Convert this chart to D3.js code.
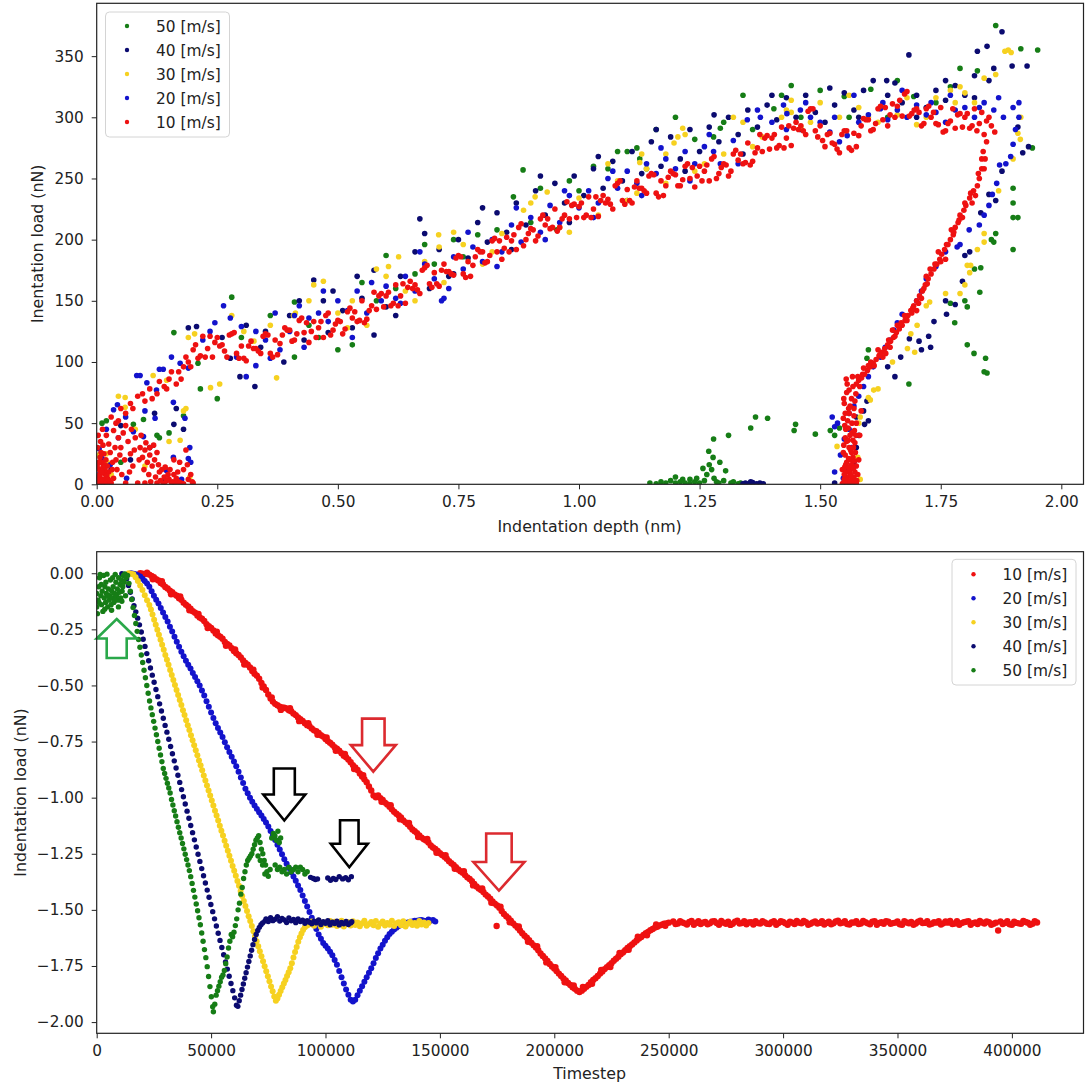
<!DOCTYPE html>
<html>
<head>
<meta charset="utf-8">
<script src="https://cdn.jsdelivr.net/npm/d3@7"></script>
<style>
  body { margin: 0; background: #fff; }
  text { font-family: "DejaVu Sans", sans-serif; fill: #222; }
</style>
</head>
<body>
<svg id="chart" width="1086" height="1085"></svg>
<script>
// ---------- series labels and colours ----------
const speeds = ["10 [m/s]", "20 [m/s]", "30 [m/s]", "40 [m/s]", "50 [m/s]"];
const speedColors = ["#ee1111", "#1313cc", "#f6d120", "#0b0b70", "#167d16"];

// ---------- ticks ----------
const depthTicks = [0, 0.25, 0.5, 0.75, 1.0, 1.25, 1.5, 1.75, 2.0];
const loadTicksTop = [0, 50, 100, 150, 200, 250, 300, 350];
const stepTicks = [0, 50000, 100000, 150000, 200000, 250000, 300000, 350000, 400000];
const loadTicksBottom = [0, -0.25, -0.5, -0.75, -1.0, -1.25, -1.5, -1.75, -2.0];

// ---------- load vs depth : [depth (nm), load (nN)] ----------
const depthLoad10 = [
  [0.003,2],[0.008,5],[0.012,1],[0.018,8],[0.005,12],[0.010,18],[0.020,3],[0.025,10],[0.015,25],[0.002,30],[0.030,1],[0.022,15],[0.006,0.5],[0.014,0.5],[0.035,5],[0.004,6],[0.009,9],[0.016,4],
  [0.002,4],[0.006,8],[0.011,3],[0.017,12],[0.021,7],[0.004,18],[0.009,26],[0.013,32],[0.019,1],[0.027,2],[0.032,12],[0.001,1],[0.011,10],[0.016,16],
  [0.001,15],[0.007,22],[0.013,14],[0.019,20],[0.024,4],[0.028,26],[0.033,18],[0.038,30],[0.042,12],[0.048,24],[0.052,8],[0.058,20],[0.068,10],[0.072,45],[0.078,28],[0.088,20],[0.092,40],[0.098,12],[0.102,34],[0.108,8],[0.112,2],[0.118,32],
  [0.122,6],[0.128,16],[0.132,3],[0.138,1],[0.142,14],[0.148,8],[0.152,12],[0.158,2],[0.162,1],[0.168,10],[0.172,18],[0.175,1],[0.188,16],[0.195,8],[0.198,2],[0.003,40],[0.008,35],[0.012,45],
  [0.020,40],[0.035,44],[0.045,38],[0.055,42],[0.050,30],[0.065,35],[0.070,25],[0.080,38],[0.090,30],[0.095,22],[0.100,28],[0.105,18],[0.110,24],[0.115,15],[0.120,20],[0.130,10],[0.140,6],[0.135,12],[0.150,4],[0.160,8],[0.170,2],[0.180,12],[0.190,4],[0.200,1],[0.060,1],[0.100,1],[0.140,0.5],[0.180,0.5],[0.040,20],[0.075,15],[0.160,20],[0.185,28],[0.045,52],[0.030,55],[0.110,30],[0.125,26],[0.145,3],[0.155,1],[0.165,5],[0.125,1],[0.085,1],[0.025,33],[0.060,48],
  [0.050,62],[0.070,66],[0.085,72],[0.100,68],[0.110,78],[0.125,74],[0.140,80],[0.150,86],[0.165,82],[0.170,92],[0.180,96],[0.190,100],
  [0.060,58],[0.075,62],[0.095,74],[0.115,70],[0.130,84],[0.145,78],[0.155,92],[0.175,86],[0.185,104],[0.195,96],[0.040,50],
  [0.20,110],[0.21,103],[0.22,121],[0.23,111],[0.24,104],[0.25,120],[0.26,114],[0.27,104],[0.28,123],[0.29,107],[0.30,113],[0.31,101],[0.32,117],[0.33,111],[0.34,107],[0.35,123],[0.36,107],[0.37,118],[0.38,115],[0.39,128],
  [0.40,126],[0.41,118],[0.42,134],[0.43,124],[0.44,116],[0.45,133],[0.46,128],[0.47,120],[0.48,140],[0.49,126],[0.50,134],[0.51,123],[0.52,141],[0.53,136],[0.54,133],[0.55,150],[0.56,135],[0.57,146],[0.58,143],[0.59,156],
  [0.60,154],[0.61,146],[0.62,163],[0.63,154],[0.64,148],[0.65,166],[0.66,163],[0.67,156],[0.68,177],[0.69,164],[0.70,173],[0.71,162],[0.72,180],[0.73,174],[0.74,171],[0.75,187],[0.76,172],[0.77,182],[0.78,179],[0.79,192],
  [0.80,190],[0.81,182],[0.82,199],[0.83,190],[0.84,184],[0.85,202],[0.86,199],[0.87,192],[0.88,213],[0.89,200],[0.90,209],[0.91,199],[0.92,217],[0.93,212],[0.94,209],[0.95,225],[0.96,210],[0.97,220],[0.98,217],[0.99,229],
  [1.00,227],[1.01,218],[1.02,235],[1.03,225],[1.04,219],[1.05,236],[1.06,233],[1.07,225],[1.08,246],[1.09,232],[1.10,241],[1.11,230],[1.12,248],[1.13,242],[1.14,238],[1.15,254],[1.16,238],[1.17,248],[1.18,244],[1.19,256],
  [1.20,253],[1.21,244],[1.22,260],[1.23,250],[1.24,243],[1.25,260],[1.26,256],[1.27,248],[1.28,268],[1.29,254],[1.30,262],[1.31,252],[1.32,270],[1.33,265],[1.34,262],[1.35,279],[1.36,264],[1.37,275],[1.38,272],[1.39,285],
  [1.40,283],[1.41,275],[1.42,292],[1.43,283],[1.44,277],[1.45,296],[1.46,293],[1.47,286],[1.48,307],[1.49,289],[1.50,293],[1.51,276],[1.52,287],[1.53,278],[1.54,271],[1.55,289],[1.56,275],[1.57,287],[1.58,285],[1.59,299],
  [1.60,298],[1.61,290],[1.62,307],[1.63,298],[1.64,293],[1.65,311],[1.66,309],[1.67,301],[1.68,321],[1.69,303],[1.70,307],[1.71,293],[1.72,307],[1.73,300],[1.74,295],[1.75,308],[1.76,289],[1.77,297],[1.78,291],[1.79,303],
  [1.80,300],[1.81,291],[1.82,307],[1.83,295],[1.84,286],[1.85,300],
  [0.215,105],[0.235,121],[0.255,113],[0.275,122],[0.295,103],[0.315,113],[0.335,109],[0.355,122],[0.375,106],[0.395,126],[0.415,123],[0.435,132],[0.455,120],[0.475,138],[0.495,131],[0.515,127],[0.535,141],[0.555,132],[0.575,157],[0.595,145],
  [0.615,148],[0.635,164],[0.655,160],[0.675,175],[0.695,161],[0.715,175],[0.735,172],[0.755,186],[0.775,170],[0.795,190],[0.815,187],[0.835,199],[0.855,190],[0.875,210],[0.895,205],[0.915,203],[0.935,217],[0.955,207],[0.975,231],[0.995,218],
  [1.015,220],[1.035,235],[1.055,230],[1.075,244],[1.095,229],[1.115,243],[1.135,240],[1.155,253],[1.175,236],[1.195,254],[1.215,249],[1.235,259],[1.255,248],[1.275,266],[1.295,259],[1.315,256],[1.335,270],[1.355,261],[1.375,286],[1.395,274],
  [1.415,277],[1.435,293],[1.455,290],[1.475,305],[1.495,284],[1.515,286],[1.535,274],[1.555,289],[1.575,276],[1.595,298],[1.615,295],[1.635,308],[1.655,300],[1.675,319],[1.695,306],[1.715,295],[1.735,304],[1.755,288],[1.775,307],[1.795,292],
  [1.815,293],[1.835,304],[1.855,293],[1.862,288],
  [0.205,114],[0.225,104],[0.245,116],[0.265,109],[0.285,124],[0.305,103],[0.325,111],[0.345,121],[0.365,104],[0.385,122],[0.405,117],[0.425,136],[0.445,125],[0.465,133],[0.485,122],[0.505,133],[0.525,144],[0.545,134],[0.565,142],[0.585,154],
  [0.605,157],[0.625,146],[0.645,161],[0.665,159],[0.685,179],[0.705,164],[0.725,174],[0.745,185],[0.765,169],[0.785,186],[0.805,181],[0.825,201],[0.845,193],[0.865,204],[0.885,195],[0.905,208],[0.925,220],[0.945,210],[0.965,217],[0.985,228],
  [1.005,230],[1.025,218],[1.045,232],[1.065,229],[1.085,248],[1.105,232],[1.125,242],[1.145,252],[1.165,235],[1.185,251],[1.205,244],[1.225,262],[1.245,252],[1.265,261],[1.285,250],[1.305,261],[1.325,273],[1.345,263],[1.365,271],[1.385,283],
  [1.405,286],[1.425,275],[1.445,291],[1.465,289],[1.485,307],[1.505,281],[1.525,279],[1.545,286],[1.565,273],[1.585,293],[1.605,289],[1.625,309],[1.645,302],[1.665,314],[1.685,301],[1.705,304],[1.725,309],[1.745,294],[1.765,295],[1.785,302],
  [1.805,303],[1.825,289],[1.845,297],
  [1.845,280],[1.838,272],[1.842,266],[1.835,258],[1.830,250],[1.826,244],[1.818,240],[1.822,236],[1.810,234],[1.802,228],[1.798,224],[1.790,220],[1.786,214],[1.780,210],[1.776,204],[1.770,200],[1.765,196],[1.758,192],[1.752,188],[1.748,184],
  [1.742,180],[1.736,176],[1.730,172],[1.724,168],[1.718,163],[1.712,158],[1.706,154],[1.700,150],[1.694,146],[1.688,142],[1.682,138],[1.676,134],[1.670,130],[1.664,127],[1.658,124],[1.652,120],[1.646,117],[1.640,114],[1.634,111],[1.628,108],
  [1.622,105],[1.616,102],[1.610,99],[1.604,96],[1.598,93],[1.592,90],[1.586,87],[1.580,85],[1.575,82],
  [1.840,258],[1.815,230],[1.795,218],[1.772,208],[1.745,190],[1.728,176],[1.710,152],[1.690,140],[1.675,138],[1.660,130],[1.645,112],[1.630,104],[1.620,110],[1.605,100],[1.590,95],[1.582,80],[1.760,184],[1.700,142],[1.720,170],[1.650,126],
  [1.835,266],[1.828,254],[1.812,238],[1.800,230],[1.788,216],[1.777,206],[1.762,196],[1.750,182],[1.738,180],[1.722,164],[1.715,160],[1.704,148],[1.692,144],[1.680,134],[1.668,132],[1.655,121],[1.642,118],[1.636,107],[1.624,106],[1.612,97],
  [1.600,97],[1.588,90],[1.578,88],
  [1.555,75],[1.565,70],[1.550,66],[1.570,62],[1.560,58],[1.548,54],[1.575,50],[1.558,46],[1.566,42],[1.552,38],[1.572,34],[1.560,30],[1.548,26],[1.568,22],[1.555,18],[1.575,15],[1.546,12],[1.562,9],[1.570,6],[1.550,4],
  [1.558,2],[1.566,1],[1.546,0.5],[1.575,0.5],[1.560,0.5],[1.553,10],[1.563,28],[1.557,52],[1.571,44],[1.549,70],[1.556,82],[1.567,88],[1.580,20],[1.578,8],[1.552,24],[1.565,16],[1.558,36],[1.570,56],[1.562,64],[1.574,74],
  [1.585,60],[1.582,40],[1.553,45],[1.569,30],[1.557,6],[1.564,20],[1.551,14],[1.573,26],
  [1.550,8],[1.556,3],[1.561,12],[1.567,4],[1.572,10],[1.553,16],[1.559,21],[1.565,26],[1.571,19],[1.549,32],[1.555,35],[1.562,40],[1.568,36],[1.574,40],[1.551,48],[1.559,62],[1.566,50],[1.552,58],[1.572,68],[1.560,77],
  [1.568,80],[1.554,86],[1.548,1],[1.554,1],[1.562,2],[1.570,1.5],[1.576,3],[1.559,14],[1.564,7],[1.569,13]
];

const depthLoad20 = [
  [0.005,29],[0.011,21],[0.028,16],[0.035,61],[0.043,65],[0.045,38],[0.062,5],[0.076,43],[0.083,89],[0.090,89],[0.097,39],[0.104,83],[0.121,54],[0.124,77],[0.130,94],[0.138,94],[0.145,11],[0.155,104],[0.159,67],[0.159,22],
  [0.173,99],[0.176,4],[0.183,54],[0.190,95],[0.193,30],[0.190,21],[0.195,18],[0.020,45],[0.060,55],[0.100,60],[0.005,8],
  [0.220,118],[0.235,125],[0.245,132],[0.263,146],[0.277,136],[0.290,104],[0.300,129],[0.310,88],[0.330,97],[0.350,118],[0.360,103],[0.380,110],[0.400,125],[0.410,138],[0.420,146],[0.440,136],[0.460,140],[0.480,133],[0.500,150],[0.520,142],
  [0.540,158],[0.560,140],[0.590,150],[0.600,162],[0.620,152],[0.640,170],[0.660,158],[0.680,180],[0.700,168],[0.715,150],[0.720,152],[0.740,186],[0.760,176],[0.780,194],[0.800,182],[0.820,200],[0.840,190],[0.860,212],[0.880,198],[0.900,218],
  [0.920,206],[0.940,228],[0.960,214],[0.980,236],[1.000,226],[1.020,240],[1.040,230],[1.060,250],[1.080,242],[1.100,256],[1.120,246],[1.140,262],[1.160,254],[1.180,266],[1.200,258],[1.220,272],[1.240,262],[1.260,276],[1.279,272],[1.293,262],
  [1.320,281],[1.349,298],[1.376,300],[1.400,296],[1.424,310],[1.431,303],[1.459,306],[1.480,300],[1.500,296],[1.520,288],[1.540,280],[1.556,285],[1.580,296],[1.600,302],[1.625,307],[1.640,298],[1.660,306],[1.680,300],[1.700,310],[1.720,302],
  [1.740,304],[1.760,296],[1.780,306],[1.800,308],[1.820,300],[1.840,312],[1.860,306],[1.880,300],[1.900,308],[1.912,312],
  [0.330,125],[0.370,140],[0.430,112],[0.470,158],[0.530,120],[0.570,165],[0.630,148],[0.670,190],[0.730,160],[0.770,206],[0.830,178],[0.870,226],[0.930,200],[0.970,240],[1.030,218],[1.070,256],[1.130,236],[1.170,275],[1.230,248],[1.270,286],
  [1.330,262],[1.370,306],[1.430,290],[1.470,312],[1.530,300],[1.570,318],[1.630,312],[1.670,322],[1.730,312],[1.770,318],[1.830,308],[1.870,316],
  [1.912,300],[1.905,290],[1.900,278],[1.895,268],[1.885,262],[1.872,261],[1.866,246],[1.857,237],[1.850,228],[1.840,220],[1.830,212],[1.809,208],[1.790,196],[1.784,194],[1.760,190],[1.740,178],[1.720,168],[1.710,158],[1.700,150],[1.690,142],
  [1.670,139],[1.660,132],[1.653,126],[1.645,118],[1.635,112],[1.625,104],[1.610,96],[1.600,88],[1.590,80],[1.580,72],[1.570,64],[1.560,58],[1.536,50],[1.525,55],[1.530,47],[1.550,37],[1.542,24],[1.530,10],[1.556,14],[1.548,5],
  [1.565,30],[1.560,45]
];

const depthLoad30 = [
  [0.004,24],[0.020,25],[0.022,18],[0.045,72],[0.059,71],[0.059,63],[0.117,89],[0.145,85],[0.173,36],[0.180,60],[0.185,62],[0.190,120],[0.193,6],[0.203,123],[0.030,8],[0.080,45],[0.100,15],[0.150,35],
  [0.236,79],[0.255,82],[0.280,138],[0.305,125],[0.326,117],[0.373,87],[0.408,138],[0.412,140],[0.450,163],[0.470,166],[0.500,140],[0.530,150],[0.560,130],[0.600,170],[0.605,178],[0.626,186],[0.640,158],[0.680,182],[0.709,204],[0.710,194],
  [0.720,165],[0.760,196],[0.800,180],[0.840,205],[0.885,224],[0.909,235],[0.934,239],[0.960,210],[1.000,234],[1.040,220],[1.080,248],[1.100,232],[1.126,263],[1.130,270],[1.140,258],[1.180,246],[1.197,279],[1.205,284],[1.215,291],[1.220,286],
  [1.260,262],[1.300,270],[1.340,296],[1.380,284],[1.420,300],[1.430,306],[1.440,304],[1.460,292],[1.500,312],[1.540,300],[1.580,308],[1.620,296],[1.660,302],[1.700,294],[1.740,316],[1.770,322],[1.790,325],[1.800,320],[1.840,332],[1.883,354],
  [1.890,355],[1.896,353],[1.864,335],[1.820,312],
  [0.360,130],[0.440,150],[0.520,128],[0.580,176],[0.660,150],[0.740,206],[0.820,190],[0.900,230],[0.980,206],[1.060,262],[1.120,238],[1.180,270],[1.240,256],[1.320,300],[1.360,276],[1.440,314],[1.480,296],[1.560,318],[1.600,300],[1.680,316],
  [1.720,300],[1.780,312],
  [1.916,300],[1.910,287],[1.915,282],[1.900,266],[1.870,240],[1.840,205],[1.840,198],[1.826,192],[1.805,179],[1.812,179],[1.810,173],[1.800,163],[1.790,156],[1.760,156],[1.727,149],[1.720,146],[1.701,130],[1.688,123],[1.696,108],[1.681,111],
  [1.650,100],[1.620,78],[1.600,71],[1.611,77],[1.604,69],[1.583,55],[1.580,50],[1.535,31],[1.583,4],[1.578,22]
];

const depthLoad40 = [
  [0.160,49],[0.165,62],[0.180,45],[0.190,128],[0.207,129],[0.010,3],[0.030,12],[0.070,20],[0.110,30],[0.140,2],[0.050,48],[0.120,58],
  [0.260,120],[0.277,103],[0.297,88],[0.310,130],[0.328,80],[0.350,125],[0.388,100],[0.400,138],[0.430,118],[0.450,167],[0.470,150],[0.490,158],[0.510,142],[0.530,128],[0.550,152],[0.575,175],[0.575,122],[0.600,145],
  [0.630,170],[0.660,190],[0.670,217],[0.690,160],[0.710,192],[0.730,170],[0.750,200],[0.770,185],[0.790,214],[0.810,198],[0.830,222],[0.850,206],[0.870,230],[0.890,212],[0.910,240],[0.930,220],[0.950,246],[0.970,230],[0.990,252],[1.010,236],
  [1.030,258],[1.050,242],[1.070,264],[1.090,248],[1.110,272],[1.130,254],[1.150,280],[1.170,260],[1.190,284],[1.210,266],[1.230,290],[1.250,272],[1.270,292],[1.290,280],[1.310,300],[1.330,286],[1.350,306],[1.370,292],[1.390,310],[1.410,298],
  [1.430,316],[1.450,300],[1.470,318],[1.490,304],[1.510,296],[1.530,310],[1.550,320],[1.570,306],[1.590,322],[1.610,330],[1.638,330],[1.655,328],[1.670,312],[1.684,351],[1.700,318],[1.720,308],[1.740,322],[1.760,314],[1.780,326],[1.800,318],
  [1.820,334],[1.826,354],[1.846,358],[1.850,330],[1.877,370],[1.860,340],[1.898,342],[1.929,342],
  [0.340,112],[0.420,150],[0.480,124],[0.540,170],[0.620,138],[0.680,205],[0.740,172],[0.800,226],[0.860,192],[0.920,252],[0.980,214],[1.040,268],[1.100,232],[1.160,290],[1.220,256],[1.280,302],[1.340,270],[1.400,318],[1.460,290],[1.520,324],
  [1.580,300],[1.640,318],[1.700,300],[1.760,330],[1.820,316],
  [1.910,292],[1.932,276],[1.920,271],[1.877,256],[1.850,237],[1.864,232],[1.833,222],[1.800,187],[1.810,190],[1.795,166],[1.780,147],[1.760,150],[1.762,139],[1.736,133],[1.725,121],[1.729,112],[1.705,117],[1.685,119],[1.710,110],[1.667,104],
  [1.655,88],[1.640,96],[1.597,68],[1.600,52],[1.592,49],[1.580,40],[1.575,30],[1.530,1],[1.590,60],[1.575,55],[1.570,18],
  [1.345,1],[1.352,0.5],[1.360,1.5],[1.368,0.5],[1.375,1],[1.382,0.5],[1.340,0.5],[1.356,2]
];

const depthLoad50 = [
  [0.011,50],[0.076,49],[0.097,53],[0.125,40],[0.130,38],[0.160,124],[0.210,99],[0.215,78],[0.250,70],[0.020,52],[0.050,18],[0.150,42],[0.180,56],
  [0.280,153],[0.300,120],[0.410,104],[0.410,149],[0.460,120],[0.500,110],[0.530,114],[0.550,165],[0.600,187],[0.620,160],[0.660,172],[0.700,180],[0.740,200],[0.790,204],[0.830,208],[0.864,235],[0.884,257],
  [0.920,242],[0.954,208],[0.980,248],[1.030,260],[1.060,258],[1.080,272],[1.100,272],[1.120,275],[1.126,266],[1.160,290],[1.200,300],[1.279,284],[1.293,291],[1.300,296],[1.340,318],[1.404,307],[1.420,318],[1.460,300],[1.500,322],[1.550,317],
  [1.605,323],[1.640,300],[1.694,317],[1.770,325],[1.790,340],[1.826,338],[1.864,375],[1.916,356],[1.951,355],
  [0.360,138],[0.440,130],[0.580,150],[0.680,196],[0.760,186],[0.900,214],[1.000,240],[1.140,258],[1.240,282],[1.360,290],[1.440,326],[1.560,300],[1.660,330],[1.740,312],
  [1.940,275],[1.900,242],[1.900,230],[1.900,218],[1.910,218],[1.900,192],[1.864,205],[1.855,200],[1.860,198],
  [1.833,177],[1.820,176],[1.831,157],[1.800,150],[1.805,145],[1.770,148],[1.779,132],[1.805,114],[1.819,107],[1.843,103],[1.840,92],[1.846,91],[1.684,82],[1.597,103],[1.600,110],
  [1.147,1],[1.160,0.5],[1.170,2],[1.180,1],[1.190,3],[1.200,1],[1.210,2],[1.215,4],[1.220,1],[1.230,0.5],[1.240,2],[1.244,5],[1.250,1],[1.257,13],[1.260,3],[1.265,8],[1.269,27],[1.270,16],[1.275,12],[1.278,22],
  [1.279,37],[1.280,5],[1.285,2],[1.290,1],[1.292,18],[1.300,3],[1.304,11],[1.310,40],[1.315,1],[1.320,2],[1.330,0.5],[1.335,1],[1.356,46],[1.366,55],[1.391,54],[1.449,49],[1.446,44],[1.490,41],[1.521,44],[1.530,40],
  [1.540,46],[1.200,6],[1.230,4]
];

// ---------- load vs timestep : [timestep, load (nN)] ----------
const stepLoad10 = [
  [19000,0.000],[20000,-0.002],[21000,-0.004],[22000,0.002],[23000,-0.006],[24000,-0.012],[25000,-0.018],[26000,-0.027],[27000,-0.032],[28000,-0.043],[29000,-0.050],[30000,-0.061],[31000,-0.068],[32000,-0.078],[33000,-0.085],[34000,-0.094],[35000,-0.100],[36000,-0.111],[37000,-0.118],[38000,-0.131],
  [39000,-0.140],[40000,-0.148],[41000,-0.158],[42000,-0.169],[43000,-0.176],[44000,-0.188],[45000,-0.197],[46000,-0.203],[47000,-0.213],[48000,-0.227],[49000,-0.236],[50000,-0.244],[51000,-0.255],[52000,-0.268],[53000,-0.276],[54000,-0.283],[55000,-0.292],[56000,-0.306],[57000,-0.315],[58000,-0.322],
  [59000,-0.334],[60000,-0.347],[61000,-0.356],[62000,-0.364],[63000,-0.375],[64000,-0.389],[65000,-0.400],[66000,-0.408],[67000,-0.420],[68000,-0.436],[69000,-0.448],[70000,-0.457],[71000,-0.470],[72000,-0.489],[73000,-0.505],[74000,-0.520],[75000,-0.540],[76000,-0.558],[77000,-0.572],[78000,-0.582],
  [79000,-0.588],[80000,-0.595],[81000,-0.598],[82000,-0.599],[83000,-0.603],[84000,-0.611],[85000,-0.615],[86000,-0.625],[87000,-0.632],[88000,-0.643],[89000,-0.650],[90000,-0.658],[91000,-0.668],[92000,-0.677],[93000,-0.682],[94000,-0.692],[95000,-0.700],[96000,-0.704],[97000,-0.712],[98000,-0.722],
  [99000,-0.728],[100000,-0.739],[101000,-0.748],[102000,-0.755],[103000,-0.764],[104000,-0.775],[105000,-0.782],[106000,-0.791],[107000,-0.802],[108000,-0.813],[109000,-0.820],[110000,-0.830],[111000,-0.842],[112000,-0.855],[113000,-0.865],[114000,-0.877],[115000,-0.892],[116000,-0.906],[117000,-0.918],[118000,-0.931],
  [119000,-0.950],[120000,-0.968],[121000,-0.990],[122000,-0.998],[123000,-0.990],[124000,-1.002],[125000,-1.010],[126000,-1.022],[127000,-1.030],[128000,-1.040],[129000,-1.052],[130000,-1.063],[131000,-1.072],[132000,-1.079],[133000,-1.088],[134000,-1.101],[135000,-1.110],[136000,-1.119],[137000,-1.130],[138000,-1.142],
  [139000,-1.150],[140000,-1.158],[141000,-1.168],[142000,-1.178],[143000,-1.185],[144000,-1.191],[145000,-1.200],[146000,-1.213],[147000,-1.222],[148000,-1.229],[149000,-1.238],[150000,-1.248],[151000,-1.255],[152000,-1.263],[153000,-1.272],[154000,-1.283],[155000,-1.292],[156000,-1.300],[157000,-1.310],[158000,-1.320],
  [159000,-1.328],[160000,-1.335],[161000,-1.345],[162000,-1.355],[163000,-1.362],[164000,-1.372],[165000,-1.385],[166000,-1.396],[167000,-1.405],[168000,-1.411],[169000,-1.420],[170000,-1.432],[171000,-1.440],[172000,-1.450],[173000,-1.462],[174000,-1.472],[175000,-1.480],[176000,-1.490],[177000,-1.505],[178000,-1.518],
  [179000,-1.528],[180000,-1.537],[181000,-1.548],[182000,-1.560],[183000,-1.570],[184000,-1.580],[185000,-1.592],[186000,-1.604],[187000,-1.615],[188000,-1.624],[189000,-1.635],[190000,-1.647],[191000,-1.658],[192000,-1.668],[193000,-1.680],[194000,-1.694],[195000,-1.705],[196000,-1.716],[197000,-1.728],[198000,-1.741],
  [199000,-1.752],[200000,-1.761],[201000,-1.772],[202000,-1.784],[203000,-1.795],[204000,-1.806],[205000,-1.815],[206000,-1.826],[207000,-1.835],[208000,-1.845],[209000,-1.852],[210000,-1.860],[211000,-1.866],[212000,-1.860],[213000,-1.852],[214000,-1.843],[215000,-1.835],[216000,-1.822],[217000,-1.812],[218000,-1.805],
  [219000,-1.795],[220000,-1.784],[221000,-1.775],[222000,-1.764],[223000,-1.755],[224000,-1.747],[225000,-1.738],[226000,-1.727],[227000,-1.718],[228000,-1.709],[229000,-1.698],[230000,-1.690],[231000,-1.680],[232000,-1.670],[233000,-1.662],[234000,-1.654],[235000,-1.645],[236000,-1.636],[237000,-1.628],[238000,-1.621],
  [239000,-1.612],[240000,-1.604],[241000,-1.598],[242000,-1.591],[243000,-1.585],[244000,-1.579],[245000,-1.575],[246000,-1.570],[247000,-1.566],[248000,-1.562],[249000,-1.560],[250000,-1.557],
  [24500,-0.027],[28500,-0.035],[32500,-0.094],[36500,-0.103],[40500,-0.165],[44500,-0.181],[48500,-0.244],[52500,-0.260],[56500,-0.323],[60500,-0.340],[64500,-0.407],[68500,-0.430],[72500,-0.509],[76500,-0.553],[80500,-0.609],[84500,-0.601],[88500,-0.659],[92500,-0.668],[96500,-0.720],[100500,-0.732],
  [104500,-0.791],[108500,-0.805],[112500,-0.872],[116500,-0.900],[124500,-1.018],[128500,-1.034],[132500,-1.096],[136500,-1.113],[140500,-1.175],[144500,-1.184],[148500,-1.246],[152500,-1.256],[156500,-1.317],[160500,-1.328],[164500,-1.391],[168500,-1.404],[172500,-1.468],[176500,-1.486],[180500,-1.555],[184500,-1.574],
  [188500,-1.642],[192500,-1.662],[196500,-1.734],[200500,-1.755],[204500,-1.823],[208500,-1.837],[212500,-1.844],[216500,-1.829],[220500,-1.768],[224500,-1.755],[228500,-1.692],[232500,-1.678],[236500,-1.620],[240500,-1.613],[244500,-1.565],[248500,-1.571],
  [252000,-1.552],[254000,-1.561],[256000,-1.556],[258000,-1.565],[260000,-1.549],[262000,-1.558],[264000,-1.563],[266000,-1.554],[268000,-1.560],[270000,-1.551],[272000,-1.566],[274000,-1.557],[276000,-1.553],[278000,-1.562],[280000,-1.548],[282000,-1.559],[284000,-1.564],[286000,-1.555],[288000,-1.550],[290000,-1.561],
  [292000,-1.556],[294000,-1.563],[296000,-1.551],[298000,-1.559],[300000,-1.554],[302000,-1.566],[304000,-1.557],[306000,-1.549],[308000,-1.560],[310000,-1.555],[312000,-1.562],[314000,-1.552],[316000,-1.558],[318000,-1.565],[320000,-1.553],[322000,-1.560],[324000,-1.548],[326000,-1.557],[328000,-1.563],[330000,-1.556],
  [332000,-1.551],[334000,-1.561],[336000,-1.555],[338000,-1.564],[340000,-1.550],[342000,-1.558],[344000,-1.562],[346000,-1.553],[348000,-1.559],[350000,-1.552],[352000,-1.566],[354000,-1.556],[356000,-1.554],[358000,-1.561],[360000,-1.548],[362000,-1.558],[364000,-1.565],[366000,-1.555],[368000,-1.551],[370000,-1.560],
  [372000,-1.557],[374000,-1.563],[376000,-1.550],[378000,-1.559],[380000,-1.553],[382000,-1.566],[384000,-1.556],[386000,-1.549],[388000,-1.561],[390000,-1.555],[392000,-1.562],[394000,-1.592],[395000,-1.552],[397000,-1.558],[399000,-1.564],[401000,-1.553],[403000,-1.560],[405000,-1.549],[407000,-1.557],[409000,-1.562],
  [411000,-1.556],[174800,-1.572],
  [253000,-1.563],[255000,-1.551],[257000,-1.560],[259000,-1.554],[261000,-1.566],[263000,-1.550],[265000,-1.557],[267000,-1.564],[269000,-1.552],[271000,-1.559],[273000,-1.549],[275000,-1.562],[277000,-1.567],[279000,-1.553],[281000,-1.561],[283000,-1.550],[285000,-1.556],[287000,-1.565],[289000,-1.559],[291000,-1.551],
  [293000,-1.562],[295000,-1.555],[297000,-1.566],[299000,-1.550],[301000,-1.560],[303000,-1.553],[305000,-1.563],[307000,-1.557],[309000,-1.549],[311000,-1.566],[313000,-1.556],[315000,-1.561],[317000,-1.551],[319000,-1.558],[321000,-1.564],[323000,-1.552],[325000,-1.560],[327000,-1.550],[329000,-1.565],[331000,-1.557],
  [333000,-1.563],[335000,-1.549],[337000,-1.560],[339000,-1.553],[341000,-1.566],[343000,-1.555],[345000,-1.550],[347000,-1.562],[349000,-1.557],[351000,-1.564],[353000,-1.551],[355000,-1.560],[357000,-1.566],[359000,-1.553],[361000,-1.559],[363000,-1.550],[365000,-1.562],[367000,-1.557],[369000,-1.565],[371000,-1.552],
  [373000,-1.549],[375000,-1.561],[377000,-1.566],[379000,-1.555],[381000,-1.550],[383000,-1.559],[385000,-1.563],[387000,-1.556],[389000,-1.552],[391000,-1.566],[393000,-1.557],[396000,-1.563],[398000,-1.551],[400000,-1.566],[402000,-1.558],[404000,-1.562],[406000,-1.554],[408000,-1.566],[410000,-1.551]
];

const stepLoad20 = [
  [15000,0.000],[16000,-0.002],[17000,-0.005],[18000,-0.009],[19000,-0.015],[20000,-0.024],[21000,-0.035],[22000,-0.046],[23000,-0.060],[24000,-0.080],[25000,-0.100],[26000,-0.118],[27000,-0.135],[28000,-0.155],[29000,-0.175],[30000,-0.195],[31000,-0.215],[32000,-0.238],[33000,-0.260],[34000,-0.283],
  [35000,-0.305],[36000,-0.328],[37000,-0.350],[38000,-0.370],[39000,-0.390],[40000,-0.408],[41000,-0.425],[42000,-0.444],[43000,-0.462],[44000,-0.481],[45000,-0.500],[46000,-0.522],[47000,-0.545],[48000,-0.570],[49000,-0.595],[50000,-0.620],[51000,-0.645],[52000,-0.668],[53000,-0.690],[54000,-0.710],
  [55000,-0.730],[56000,-0.753],[57000,-0.775],[58000,-0.797],[59000,-0.818],[60000,-0.839],[61000,-0.860],[62000,-0.885],[63000,-0.910],[64000,-0.935],[65000,-0.960],[66000,-0.980],[67000,-1.000],[68000,-1.018],[69000,-1.035],[70000,-1.050],[71000,-1.065],[72000,-1.080],[73000,-1.095],[74000,-1.111],
  [75000,-1.128],[76000,-1.148],[77000,-1.168],[78000,-1.189],[79000,-1.210],[80000,-1.231],[81000,-1.252],[82000,-1.274],[83000,-1.295],[84000,-1.313],[85000,-1.332],[86000,-1.351],[87000,-1.370],[88000,-1.391],[89000,-1.412],[90000,-1.436],[91000,-1.460],[92000,-1.485],[93000,-1.510],[94000,-1.535],
  [95000,-1.560],[96000,-1.585],[97000,-1.610],[98000,-1.629],[99000,-1.648],[100000,-1.660],[101000,-1.672],[102000,-1.687],[103000,-1.702],[104000,-1.723],[105000,-1.745],[106000,-1.772],[107000,-1.800],[108000,-1.828],[109000,-1.855],[110000,-1.878],[111000,-1.900],[112000,-1.908],[113000,-1.900],[114000,-1.880],
  [115000,-1.860],[116000,-1.840],[117000,-1.820],[118000,-1.800],[119000,-1.780],[120000,-1.760],[121000,-1.738],[122000,-1.715],[123000,-1.693],[124000,-1.672],[125000,-1.655],[126000,-1.638],[127000,-1.622],[128000,-1.608],[129000,-1.597],[130000,-1.588],[131000,-1.580],[132000,-1.572],[133000,-1.567],[134000,-1.562],
  [135000,-1.558],[136000,-1.556],[137000,-1.553],[138000,-1.552],[139000,-1.549],[140000,-1.548],[141000,-1.546],[142000,-1.545],[143000,-1.549],[144000,-1.550],[145000,-1.543],[146000,-1.548],[147000,-1.545],[148000,-1.552]
];

const stepLoad30 = [
  [14000,0.000],[15000,-0.002],[16000,-0.005],[17000,-0.018],[18000,-0.035],[19000,-0.055],[20000,-0.075],[21000,-0.098],[22000,-0.120],[23000,-0.142],
  [23700,-0.162],[24400,-0.184],[25100,-0.207],[25800,-0.229],[26500,-0.252],[27200,-0.274],[27900,-0.296],[28600,-0.319],[29300,-0.341],[30000,-0.364],[30700,-0.386],[31400,-0.408],[32100,-0.431],[32800,-0.453],[33500,-0.476],[34200,-0.498],[34900,-0.520],[35600,-0.543],[36300,-0.565],[37000,-0.587],
  [37700,-0.610],[38400,-0.632],[39100,-0.655],[39800,-0.677],[40500,-0.699],[41200,-0.722],[41900,-0.744],[42600,-0.767],[43300,-0.789],[44000,-0.811],[44700,-0.834],[45400,-0.856],[46100,-0.878],[46800,-0.901],[47500,-0.923],[48200,-0.946],[48900,-0.968],[49600,-0.990],[50300,-1.013],[51000,-1.035],
  [51700,-1.058],[52400,-1.080],[53100,-1.102],[53800,-1.125],[54500,-1.147],[55200,-1.169],[55900,-1.192],[56600,-1.214],[57300,-1.237],[58000,-1.259],[58700,-1.281],[59400,-1.304],[60100,-1.326],[60800,-1.348],[61500,-1.371],[62200,-1.393],[62900,-1.416],[63600,-1.438],[64300,-1.460],[65000,-1.483],
  [65700,-1.505],[66400,-1.528],[67100,-1.550],[67800,-1.572],[68500,-1.595],[69200,-1.617],[69900,-1.640],[70600,-1.662],[71300,-1.684],[72000,-1.707],[72700,-1.729],[73400,-1.751],[74100,-1.774],[74800,-1.796],[75500,-1.818],[76200,-1.841],[76900,-1.863],[77600,-1.886],[78300,-1.905],
  [79000,-1.895],[79700,-1.878],[80400,-1.862],[81100,-1.845],[81800,-1.828],[82500,-1.812],[83200,-1.795],[83900,-1.778],[84600,-1.760],[85300,-1.738],[86000,-1.712],[86700,-1.688],[87400,-1.665],[88100,-1.642],[88800,-1.622],[89500,-1.605],[90200,-1.590],[91000,-1.578],[92000,-1.570],[93000,-1.564],
  [94000,-1.552],[95000,-1.571],[96000,-1.560],[97000,-1.548],[98000,-1.575],[99000,-1.563],[100000,-1.556],[101000,-1.569],[102000,-1.550],[103000,-1.566],[104000,-1.553],[105000,-1.572],[106000,-1.559],[107000,-1.549],[108000,-1.574],[109000,-1.562],[110000,-1.555],[111000,-1.570],[112000,-1.551],[113000,-1.567],
  [114000,-1.556],[115000,-1.573],[116000,-1.560],[117000,-1.548],[118000,-1.571],[119000,-1.563],[120000,-1.554],[121000,-1.568],[122000,-1.550],[123000,-1.575],[124000,-1.561],[125000,-1.552],[126000,-1.570],[127000,-1.558],[128000,-1.566],[129000,-1.549],[130000,-1.572],[131000,-1.560],[132000,-1.555],[133000,-1.569],
  [134000,-1.551],[135000,-1.574],[136000,-1.562],[137000,-1.553],[138000,-1.567],[139000,-1.558],[140000,-1.571],[141000,-1.550],[142000,-1.565],[143000,-1.556],[144000,-1.570],[145000,-1.559]
];

const stepLoad40 = [
  [11000,-0.002],[12300,-0.005],[13100,-0.025],[13900,-0.055],[14700,-0.085],[15500,-0.115],[16300,-0.145],[17100,-0.172],[17900,-0.200],[18700,-0.230],[19500,-0.262],[20300,-0.294],[21100,-0.326],[21900,-0.358],[22700,-0.390],[23500,-0.422],[24300,-0.454],[25100,-0.486],[25900,-0.518],[26700,-0.550],
  [27500,-0.582],[28300,-0.614],[29100,-0.646],[29900,-0.678],[30700,-0.708],[31500,-0.740],[32300,-0.772],[33100,-0.804],[33900,-0.836],[34700,-0.868],[35500,-0.900],[36300,-0.932],[37100,-0.964],[37900,-0.996],[38700,-1.028],[39500,-1.060],[40300,-1.092],[41100,-1.124],[41900,-1.156],[42700,-1.188],
  [43500,-1.220],[44300,-1.252],[45100,-1.284],[45900,-1.316],[46700,-1.348],[47500,-1.380],[48300,-1.412],[49100,-1.444],[49900,-1.476],[50700,-1.508],[51500,-1.540],[52300,-1.572],[53100,-1.604],[53900,-1.636],[54700,-1.668],[55500,-1.700],[56300,-1.732],[57100,-1.764],[57900,-1.796],[58700,-1.828],
  [59500,-1.860],[60300,-1.892],[61100,-1.925],[61700,-1.930],
  [62300,-1.905],[62900,-1.880],[63500,-1.855],[64100,-1.830],[64700,-1.805],[65300,-1.780],[65900,-1.755],[66500,-1.730],[67100,-1.705],[67700,-1.680],[68300,-1.655],[69000,-1.632],[69700,-1.610],[70400,-1.592],[71100,-1.578],[71800,-1.566],[72500,-1.558],[73500,-1.550],
  [74000,-1.540],[75000,-1.552],[76000,-1.535],[77000,-1.548],[78000,-1.542],[79000,-1.530],[80000,-1.550],[81000,-1.538],[82000,-1.545],[83000,-1.556],[84000,-1.536],[85000,-1.549],[86000,-1.543],[87000,-1.557],[88000,-1.540],[89000,-1.552],[90000,-1.546],[91000,-1.560],[92000,-1.548],[93000,-1.555],
  [94000,-1.562],[95000,-1.550],[96000,-1.558],[97000,-1.545],[98000,-1.565],[99000,-1.553],[100000,-1.560],[101000,-1.548],[102000,-1.566],[103000,-1.555],[104000,-1.561],[105000,-1.550],[106000,-1.567],[107000,-1.556],[108000,-1.562],[109000,-1.552],[110000,-1.565],[111000,-1.558],[111500,-1.553],
  [93500,-1.355],[94700,-1.360],[95600,-1.365],[96500,-1.362],[101000,-1.358],[102200,-1.368],[103400,-1.360],[104500,-1.365],[106000,-1.352],[107500,-1.362],[108800,-1.357],[110000,-1.366],[111300,-1.352]
];

const stepLoad50 = [
  [0,-0.090],[0,-0.150],[300,-0.180],[600,-0.120],[900,-0.060],[1200,-0.020],[1500,-0.005],[1800,-0.100],[2100,-0.140],[2400,-0.080],[2700,-0.170],[3000,-0.010],[3300,-0.110],[3600,-0.060],[3900,-0.130],[4200,-0.090],[4500,-0.004],[4800,-0.150],[5100,-0.070],[5400,-0.120],
  [5700,-0.100],[6000,-0.030],[6300,-0.140],[6600,-0.080],[6900,-0.110],[7200,-0.060],[7500,-0.130],[7800,-0.090],[8100,-0.005],[8400,-0.040],[8700,-0.100],[9000,-0.070],[9300,-0.120],[9600,-0.020],[9900,-0.085],[10200,-0.050],[10500,-0.110],[10800,-0.030],[11100,-0.080],[11400,-0.060],
  [11700,-0.010],[12000,-0.040],[12300,-0.003],[12600,-0.100],[12900,-0.020],[1000,-0.130],[2000,-0.050],[3500,-0.160],[5000,-0.100],[6500,-0.165],[8000,-0.120],[9500,-0.150],[11000,-0.125],[4000,-0.040],[7000,-0.020],
  [13500,-0.010],[14100,-0.045],[14700,-0.080],[15300,-0.117],[15900,-0.153],[16500,-0.188],[17100,-0.224],[17700,-0.259],[18300,-0.295],[18900,-0.330],[19500,-0.364],[20100,-0.398],[20700,-0.432],[21300,-0.466],[21900,-0.500],[22500,-0.535],[23100,-0.569],[23700,-0.600],[24300,-0.630],[24900,-0.660],
  [25500,-0.690],[26100,-0.720],[26700,-0.750],[27300,-0.780],[27900,-0.810],[28500,-0.840],[29100,-0.870],[29700,-0.892],[30300,-0.914],[30900,-0.936],[31500,-0.957],[32100,-0.979],[32700,-1.008],[33300,-1.033],[33900,-1.058],[34500,-1.082],[35100,-1.107],[35700,-1.132],[36300,-1.156],[36900,-1.180],
  [37500,-1.204],[38100,-1.228],[38700,-1.252],[39300,-1.276],[39900,-1.300],[40500,-1.325],[41100,-1.352],[41700,-1.382],[42300,-1.413],[42900,-1.443],[43500,-1.474],[44100,-1.504],[44700,-1.535],[45300,-1.566],[45900,-1.603],[46500,-1.640],[47100,-1.677],[47700,-1.713],[48300,-1.753],[48900,-1.797],
  [49500,-1.842],[50100,-1.887],[50700,-1.932],[51000,-1.954],
  [51600,-1.920],[52200,-1.880],[52800,-1.860],[53400,-1.840],[54000,-1.820],[54600,-1.800],[55200,-1.790],[55800,-1.770],[56400,-1.740],[57000,-1.710],[57600,-1.670],[58200,-1.640],[58800,-1.610],[59400,-1.620],[60000,-1.600],[60600,-1.570],[61200,-1.540],[61800,-1.500],[62400,-1.470],[63000,-1.430],
  [63600,-1.400],[64200,-1.360],[64800,-1.330],[65400,-1.300],[66000,-1.280],[66600,-1.270],[67200,-1.260],[67800,-1.250],[68400,-1.230],[69000,-1.210],[69600,-1.190],[70200,-1.180],[70800,-1.170],[71400,-1.200],[72000,-1.230],[72600,-1.250],[73200,-1.280],[73800,-1.300],[74400,-1.330],[75000,-1.350],
  [70500,-1.260],[71500,-1.280],[72500,-1.300],[73500,-1.340],[75800,-1.320],[76500,-1.180],[77200,-1.160],[77900,-1.170],[78600,-1.190],[79200,-1.150],[79800,-1.200],[80400,-1.180],[78000,-1.300],[79000,-1.320],[80000,-1.310],[81000,-1.330],[82000,-1.320],[83000,-1.340],[84000,-1.310],[85000,-1.330],
  [86000,-1.320],[87000,-1.310],[88000,-1.330],[89000,-1.310],[90000,-1.320],[91000,-1.340],[92000,-1.330]
];

// ---------- annotation arrows : tip position in data units ----------
const arrowNotes = [
  { step: 8740,   load: -0.204, dir: "up",   color: "#2aa84a", w: 40, h: 39 },
  { step: 120900, load: -0.884, dir: "down", color: "#dc2a2f", w: 45, h: 53 },
  { step: 175800, load: -1.414, dir: "down", color: "#dc2a2f", w: 51, h: 57 },
  { step: 82000,  load: -1.102, dir: "down", color: "#000000", w: 42, h: 52 },
  { step: 110400, load: -1.310, dir: "down", color: "#000000", w: 37, h: 47 }
];

// ---------- layout ----------
const svg = d3.select("#chart");
svg.append("rect").attr("width", 1086).attr("height", 1085).attr("fill", "#fff");

const LEFT = 96.7, RIGHT = 1083.5;
const TICK_FONT = "15.3px", LABEL_FONT = "15.8px", LEGEND_FONT = "15.4px";

function drawAxes(g, x, y, top, bottom, xTicks, yTicks, xFmt, yFmt) {
  const xa = g.append("g").attr("transform", `translate(0,${bottom})`)
    .call(d3.axisBottom(x).tickValues(xTicks).tickFormat(xFmt).tickSize(5).tickPadding(7));
  const ya = g.append("g").attr("transform", `translate(${LEFT},0)`)
    .call(d3.axisLeft(y).tickValues(yTicks).tickFormat(yFmt).tickSize(5).tickPadding(8));
  [xa, ya].forEach(a => {
    a.select(".domain").remove();
    a.selectAll(".tick line").attr("stroke", "#222").attr("stroke-width", 1);
    a.selectAll(".tick text").style("font-size", TICK_FONT).attr("fill", "#222");
  });
  g.append("rect").attr("x", LEFT).attr("y", top)
    .attr("width", RIGHT - LEFT).attr("height", bottom - top)
    .attr("fill", "none").attr("stroke", "#222").attr("stroke-width", 1.2);
}

function drawPoints(g, data, x, y, color, r) {
  g.append("g").selectAll("circle").data(data).join("circle")
    .attr("cx", d => x(d[0])).attr("cy", d => y(d[1]))
    .attr("r", r).attr("fill", color);
}

function drawLegend(g, x0, y0, w, h, rowY0, order) {
  g.append("rect").attr("x", x0).attr("y", y0).attr("width", w).attr("height", h)
    .attr("rx", 4).attr("fill", "#fff").attr("fill-opacity", 0.85)
    .attr("stroke", "#d4d4d4").attr("stroke-width", 1);
  order.forEach((idx, i) => {
    const yy = rowY0 + i * 24;
    g.append("circle").attr("cx", x0 + 21.5).attr("cy", yy).attr("r", 2.2).attr("fill", speedColors[idx]);
    g.append("text").attr("x", x0 + 50.5).attr("y", yy).attr("dy", "0.36em")
      .style("font-size", LEGEND_FONT).text(speeds[idx]);
  });
}

// ---------- top panel : load vs indentation depth ----------
{
  const top = 3.3, bottom = 484.3;
  const x = d3.scaleLinear().domain([0, 2.046]).range([LEFT, RIGHT]);
  const y = d3.scaleLinear().domain([0, 393.2]).range([bottom, top]);
  const g = svg.append("g");
  const clip = g.append("clipPath").attr("id", "clipTop");
  clip.append("rect").attr("x", LEFT).attr("y", top).attr("width", RIGHT - LEFT).attr("height", bottom - top);
  const plot = g.append("g").attr("clip-path", "url(#clipTop)");
  const topSeries = [depthLoad10, depthLoad20, depthLoad30, depthLoad40, depthLoad50];
  // fastest first so the slowest run sits on top
  [4, 3, 2, 1, 0].forEach(i => drawPoints(plot, topSeries[i], x, y, speedColors[i], 2.8));
  drawAxes(g, x, y, top, bottom, depthTicks, loadTicksTop, d3.format(".2f"), d3.format("d"));
  g.append("text").attr("x", (LEFT + RIGHT) / 2 - 0.5).attr("y", 531.5).attr("text-anchor", "middle")
    .style("font-size", LABEL_FONT).text("Indentation depth (nm)");
  g.append("text").attr("transform", `translate(37,${(top + bottom) / 2}) rotate(-90)`)
    .attr("text-anchor", "middle").attr("dy", "0.36em")
    .style("font-size", LABEL_FONT).text("Inentation load (nN)");
  drawLegend(g, 105.5, 12, 124, 125, 26, [4, 3, 2, 1, 0]);
}

// ---------- bottom panel : load vs timestep ----------
{
  const top = 551.7, bottom = 1033.3;
  const x = d3.scaleLinear().domain([0, 431300]).range([LEFT, RIGHT]);
  const y = d3.scaleLinear().domain([-2.05, 0.096]).range([bottom, top]);
  const g = svg.append("g");
  const clip = g.append("clipPath").attr("id", "clipBottom");
  clip.append("rect").attr("x", LEFT).attr("y", top).attr("width", RIGHT - LEFT).attr("height", bottom - top);
  const plot = g.append("g").attr("clip-path", "url(#clipBottom)");
  const bottomSeries = [stepLoad10, stepLoad20, stepLoad30, stepLoad40, stepLoad50];
  const bottomRadius = [3.2, 3.0, 3.0, 2.7, 2.7];
  [0, 1, 2, 3, 4].forEach(i => drawPoints(plot, bottomSeries[i], x, y, speedColors[i], bottomRadius[i]));

  // hollow block arrows marking events on the curves
  arrowNotes.forEach(a => {
    const tx = x(a.step), ty = y(a.load);
    const s = a.dir === "down" ? -1 : 1;       // body extends opposite to the pointing direction
    const hw = a.w / 2, sw = a.w / 4, hh = a.h * 0.5;
    const pts = [
      [tx, ty],
      [tx + hw, ty + s * hh],
      [tx + sw, ty + s * hh],
      [tx + sw, ty + s * a.h],
      [tx - sw, ty + s * a.h],
      [tx - sw, ty + s * hh],
      [tx - hw, ty + s * hh]
    ];
    g.append("path").attr("d", d3.line()(pts) + "Z")
      .attr("fill", "none").attr("stroke", a.color).attr("stroke-width", 2.6)
      .attr("stroke-linejoin", "miter");
  });

  drawAxes(g, x, y, top, bottom, stepTicks, loadTicksBottom, d3.format("d"), d3.format(".2f"));
  g.append("text").attr("x", (LEFT + RIGHT) / 2 - 0.5).attr("y", 1078.5).attr("text-anchor", "middle")
    .style("font-size", LABEL_FONT).text("Timestep");
  g.append("text").attr("transform", `translate(20,${(top + bottom) / 2}) rotate(-90)`)
    .attr("text-anchor", "middle").attr("dy", "0.36em")
    .style("font-size", LABEL_FONT).text("Indentation load (nN)");
  drawLegend(g, 952, 559.3, 124, 125.7, 574.3, [0, 1, 2, 3, 4]);
}
</script>
</body>
</html>
